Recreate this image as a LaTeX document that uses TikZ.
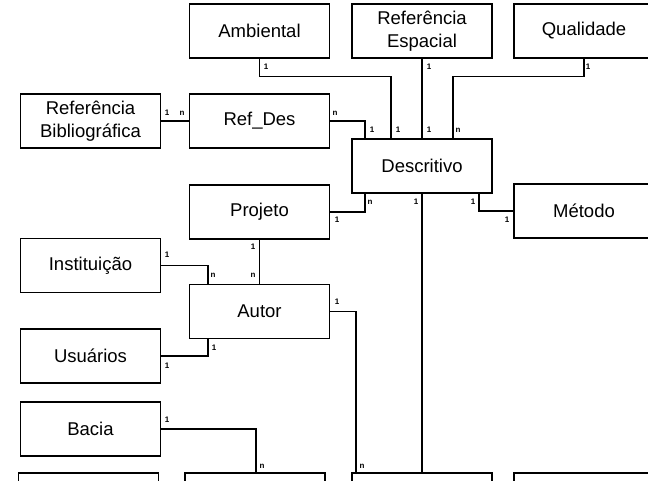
\documentclass[tikz,border=0pt]{standalone}
\usepackage{fontspec}
\setmainfont{Liberation Sans}

\begin{document}
\begin{tikzpicture}[x=1pt,y=-1pt,line width=1.3pt,
    entity/.style={draw,minimum width=140pt,minimum height=54pt,inner sep=0pt,
      align=center,font=\fontsize{18.5}{23}\selectfont},
    card/.style={inner sep=0pt,font=\fontsize{8}{8}\selectfont\bfseries}]
    \clip (0,0) rectangle (648,481);
    % entidades
    \foreach \n/\p/\t in {
      amb/{259.5,31}/Ambiental,
      refesp/{422,31}/{Referência\\Espacial},
      qual/{584,31}/Qualidade,
      refbib/{90.5,121}/{Referência\\Bibliográfica},
      refdes/{259.5,121}/Ref\_Des,
      desc/{422,166}/Descritivo,
      proj/{259.5,212}/Projeto,
      met/{584,211}/Método,
      inst/{90.5,265.5}/Instituição,
      autor/{259.5,311.5}/Autor,
      usu/{90.5,356}/Usuários,
      bacia/{90.5,429}/Bacia,
      bA/{88.5,500}/{},
      bB/{255,500}/{},
      bC/{422,500}/{},
      bD/{584,500}/{}
    }{
      \node[entity] (\n) at (\p) {\t};
    }
    % relacionamentos
    \draw (amb.south) -- ++(0,18) -| ([xshift=-31pt]desc.north);
    \draw (refesp) -- (desc);
    \draw (qual.south) -- ++(0,18) -| ([xshift=31pt]desc.north);
    \draw (refbib) -- (refdes);
    \draw (refdes.east) -| ([xshift=-57pt]desc.north);
    \draw ([xshift=-57pt]desc.south) |- (proj.east);
    \draw (desc) -- (bC);
    \draw ([xshift=57pt]desc.south) |- (met.west);
    \draw (proj) -- (autor);
    \draw (inst.east) -| ([xshift=-51.5pt]autor.north);
    \draw ([xshift=-51.5pt]autor.south) |- (usu.east);
    \draw (autor.east) -| ([xshift=-66pt]bC.north);
    \draw (bacia.east) -| ([xshift=1pt]bB.north);
    % cardinalidades
    \foreach \p/\t [count=\i] in {
      {266,67}/1, {398,130}/1, {429,67}/1, {429,130}/1,
      {588,67}/1, {458,130}/n, {335,113}/n, {372,130}/1,
      {167,113}/1, {182,113}/n,
      {370,202}/n, {337,220}/1, {416,202}/1, {473,202}/1, {507,220}/1,
      {253,247}/1, {253,275}/n,
      {167,255}/1, {213,275}/n,
      {214,348}/1, {167,366}/1,
      {337,302}/1, {362,466}/n,
      {167,420}/1, {262,466}/n
    }{
      \node[card] (c\i) at (\p) {\t};
    }
\end{tikzpicture}
\end{document}
